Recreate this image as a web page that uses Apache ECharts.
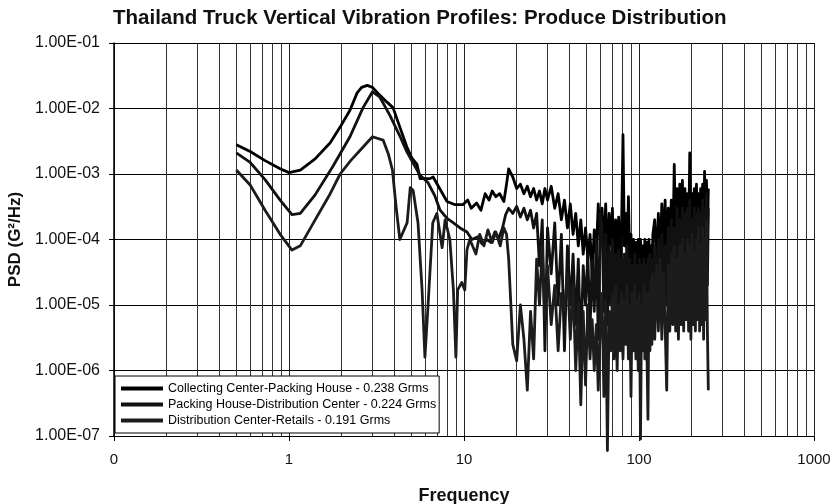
<!DOCTYPE html>
<html>
<head>
<meta charset="utf-8">
<script src="https://cdn.jsdelivr.net/npm/echarts@6/dist/echarts.min.js"></script>
<style>
html,body{margin:0;padding:0;background:#fff;}
#chart{width:837px;height:504px;}
</style>
</head>
<body>
<div id="chart"></div>
<script>
// ---------- data ----------
const seriesNames = [
  'Collecting Center-Packing House - 0.238 Grms',
  'Packing House-Distribution Center - 0.224 Grms',
  'Distribution Center-Retails - 0.191 Grms'
];

// low-frequency parts (Hz, G^2/Hz)
const freqA = [0.5,0.6,0.73,0.89,1.0,1.16,1.41,1.72,1.96,2.23,2.45,2.6,2.8,3.0,3.3,3.63,3.93,4.3,4.71,5.04,5.39,5.61,6.4,6.66,8.0,8.9,9.85,10.5,11.0,11.8,12.5,13.2,13.9,14.5,15.2,16.0,16.9,17.5];
const psdA  = [2.8e-3,2.2e-3,1.6e-3,1.2e-3,1.05e-3,1.15e-3,1.7e-3,3.0e-3,5.2e-3,9.4e-3,0.0173,0.021,0.0225,0.021,0.016,0.0125,0.0103,5.2e-3,2.6e-3,1.75e-3,1.4e-3,8.5e-4,8.5e-4,9e-4,3.8e-4,3.4e-4,3.4e-4,4e-4,3e-4,3.6e-4,2.8e-4,5e-4,4e-4,5.5e-4,4.5e-4,5e-4,3.8e-4,7e-4];

const freqB = [0.5,0.6,0.73,0.89,1.04,1.16,1.41,1.78,2.23,2.65,3.0,3.3,3.76,4.3,4.71,5.1,5.6,6.2,6.8,7.3,8.0,8.7,9.5,10.4,11.1,12.0,12.7,13.5,14.3,15.0,15.8,16.6,17.3];
const psdB  = [2.1e-3,1.5e-3,8.2e-4,4e-4,2.4e-4,2.5e-4,4.8e-4,1.3e-3,3.7e-3,0.0103,0.018,0.015,8e-3,3.8e-3,2.2e-3,1.5e-3,9.6e-4,7.5e-4,4.7e-4,2.8e-4,2.1e-4,1.8e-4,1.5e-4,1.3e-4,1e-4,1.1e-4,8.5e-5,1e-4,9e-5,1.3e-4,1.05e-4,1.5e-4,2.4e-4];

const freqC = [0.5,0.6,0.73,0.89,1.04,1.16,1.44,1.72,1.96,2.25,2.55,3.0,3.45,3.7,3.9,4.1,4.3,4.73,4.93,5.12,5.46,5.76,5.98,6.22,6.63,7.0,7.5,7.8,8.3,8.7,8.99,9.2,9.7,10.1,10.4,10.8,11.7,12.3,13.0,13.7,14.5,15.2,16.1,16.9,17.5];
const psdC  = [1.15e-3,6.8e-4,2.8e-4,1.2e-4,6.9e-5,8e-5,2.2e-4,5e-4,1.0e-3,1.6e-3,2.3e-3,3.7e-3,3.3e-3,2e-3,1.15e-3,3e-4,1e-4,1.8e-4,6.2e-4,5.6e-4,1.8e-4,1.7e-5,1.6e-6,9e-6,1.8e-4,2.5e-4,7.5e-5,2e-4,1e-4,1.7e-5,1.6e-6,1.7e-5,2.2e-5,1.7e-5,7e-5,1e-4,6e-5,1.2e-4,8e-5,1.4e-4,9e-5,1.3e-4,8e-5,1.5e-4,1.2e-4];

// 18–60 Hz noisy band (shared frequencies)
const midFreq = [18,19,20,21,22,23,24,25,26,27,28,29,30,31.5,33,34.5,36,37.5,39,40.5,42,43.5,45,46.5,48,49.5,51,52.5,54,55.5,57,58.5,60];
const midA = [1.2e-3,9e-4,6e-4,7e-4,5e-4,6.5e-4,4.5e-4,6e-4,4e-4,5.5e-4,3.5e-4,6e-4,4e-4,6.5e-4,3e-4,5e-4,2e-4,4e-4,1.5e-4,3.5e-4,1.2e-4,2.5e-4,8e-5,2e-4,6e-5,1.5e-4,5e-5,1.2e-4,3e-5,1.4e-4,6e-5,3.5e-4,1e-4];
const midB = [3e-4,2.5e-4,3.2e-4,2.2e-4,3e-4,2e-4,2.8e-4,1.5e-4,2.5e-4,4e-5,2e-4,2e-6,1.5e-4,3e-5,1.8e-4,1e-5,1.2e-4,2e-6,8e-5,1e-5,6e-5,5e-6,5e-5,2e-6,4e-5,1e-5,6e-5,4e-6,5e-5,8e-6,1e-4,3e-6,2.5e-4];
const midC = [5e-5,2.5e-6,1.4e-6,1e-5,3e-6,5e-7,8e-6,1.5e-6,5e-5,1e-5,8e-5,6e-6,4e-5,5e-6,2e-5,2e-6,1.5e-5,8e-6,3e-5,3e-6,2e-5,1e-6,1e-5,3e-7,8e-6,6e-7,1e-5,1.5e-6,6e-6,1e-6,5e-6,5e-7,4e-6];

// 60–120 Hz noisy band
const hiFreq1 = [61.5,63,64.5,66,67.5,69,70.5,72,73.5,75,76.5,78,79.5,81,82.5,84,85.5,87,88.5,90,91.5,93,94.5,96,97.5,99,100.5,102,103.5,105,106.5,108,109.5,111,112.5,114,115.5,117,118.5,120];
const hi1A = [3e-4,6e-5,3.5e-4,4e-5,2.5e-4,8e-5,3e-4,3e-5,2e-4,6e-5,2.2e-4,3e-5,1.5e-4,4e-3,8e-5,2.5e-4,4e-5,4.5e-4,5e-5,1.2e-4,2e-5,1e-4,3e-5,9e-5,1.5e-5,1e-4,2.5e-5,1e-4,2e-5,8e-5,3e-5,1e-4,1.5e-5,9e-5,3e-5,1e-4,2e-5,8e-5,3e-5,1.2e-4];
const hi1B = [1.5e-4,8e-6,1.2e-4,5e-6,8e-5,1e-5,1e-4,4e-6,6e-5,8e-6,7e-5,3e-6,5e-5,6e-6,6e-5,4e-6,8e-5,3e-6,5e-5,5e-6,4e-5,3e-6,6e-5,6e-6,4e-5,4e-6,5e-5,3e-6,4e-5,7e-6,5e-5,4e-6,4e-5,6e-6,5e-5,5e-6,6e-5,8e-6,5e-5,6e-6];
const hi1C = [1.5e-5,4e-7,1e-5,6e-8,8e-6,2e-6,1.5e-5,1.5e-6,2e-5,1e-6,1e-5,2e-6,1.5e-5,1.5e-6,1.2e-5,2.5e-6,2e-5,1.5e-6,1e-5,4e-7,1.5e-5,2e-6,2e-5,1.5e-6,1.2e-5,1e-6,1.5e-5,9e-8,1e-5,2e-6,2e-5,1.5e-6,1.5e-5,2e-6,1.8e-7,1.5e-5,2e-6,2.5e-5,2.5e-6,3e-5];

// 120–250 Hz noisy band
const hiFreq2 = [123,126,129,132,135,138,141,144,147,150,153,156,159,162,165,168,171,174,177,180,183,186,189,192,195,198,201,204,207,210,213,216,219,222,225,228,231,234,237,240,243,246,249];
const hi2A = [2e-4,4e-5,2.5e-4,5e-5,3.5e-4,6e-5,4e-4,4e-5,3e-4,8e-5,4e-4,6e-5,1.4e-3,1e-4,6e-4,5e-5,7e-4,1e-4,8e-4,6e-5,6e-4,1.2e-4,5e-4,8e-5,2.1e-3,1.5e-4,5e-4,6e-5,6e-4,1e-4,7e-4,5e-5,5e-4,1.2e-4,6e-4,8e-5,7e-4,1e-4,1.1e-3,6e-5,8e-4,1e-4,6e-4];
const hi2B = [8e-5,8e-6,1e-4,1e-5,1.2e-4,7e-6,8e-5,1e-5,1.5e-4,8e-6,2e-4,1.2e-5,1.5e-4,1e-5,3e-4,1.5e-5,2e-4,8e-6,3e-4,1.2e-5,2.5e-4,1e-5,3e-4,1.5e-5,4e-4,1e-5,2e-4,1.2e-5,3e-4,8e-6,2.5e-4,1.5e-5,3e-4,1e-5,2.5e-4,1.2e-5,4e-4,1e-5,3e-4,1.5e-5,5e-4,2e-5,3e-4];
const hi2C = [3e-6,4e-5,4e-6,5e-5,3e-6,3e-5,5e-6,5e-7,4e-5,4e-6,6e-5,5e-6,8e-5,4e-6,5e-5,3e-6,8e-5,5e-6,1e-4,4e-6,6e-5,6e-6,1e-4,4e-6,8e-5,3e-6,1.2e-4,5e-6,6e-5,4e-6,1e-4,6e-6,1.5e-4,4e-6,8e-5,5e-6,1.5e-4,3e-6,1e-4,6e-6,2e-4,4e-6,5e-7];

// axis tick labels (by decade exponent)
const xTickLabels = {'-1':'0','0':'1','1':'10','2':'100','3':'1000'};
const yTickLabels = {'-7':'1.00E-07','-6':'1.00E-06','-5':'1.00E-05','-4':'1.00E-04','-3':'1.00E-03','-2':'1.00E-02','-1':'1.00E-01'};

// ---------- build ----------
function pairs(f, v){ return f.map((x,i)=>[x, v[i]]); }
const dataA = [].concat(pairs(freqA, psdA), pairs(midFreq, midA), pairs(hiFreq1, hi1A), pairs(hiFreq2, hi2A));
const dataB = [].concat(pairs(freqB, psdB), pairs(midFreq, midB), pairs(hiFreq1, hi1B), pairs(hiFreq2, hi2B));
const dataC = [].concat(pairs(freqC, psdC), pairs(midFreq, midC), pairs(hiFreq1, hi1C), pairs(hiFreq2, hi2C));

// minor vertical grid lines at 2..9 x each decade
const minorX = [];
[0.1,1,10,100].forEach(d=>{ for(let k=2;k<=9;k++) minorX.push(+(d*k).toPrecision(3)); });

const FONT = 'Liberation Sans, Arial, Helvetica, sans-serif';
const chart = echarts.init(document.getElementById('chart'), null, {renderer:'canvas'});

function lineSeries(name, data, color, clip){
  return {
    name, type:'line', data, showSymbol:false, symbol:'none',
    lineStyle:{color, width:2.8, join:'round'}, itemStyle:{color},
    animation:false, clip: clip, z:3
  };
}

chart.setOption({
  backgroundColor:'#fff',
  animation:false,
  title:{
    text:'Thailand Truck Vertical Vibration Profiles: Produce Distribution',
    left:108, top:3,
    textStyle:{fontFamily:FONT, fontSize:20.5, fontWeight:'bold', color:'#111'}
  },
  grid:{left:114, right:23, top:43, bottom:68, containLabel:false, outerBoundsMode:'none'},
  legend:{
    data:seriesNames,
    orient:'vertical', left:115, top:376, z:10,
    icon:'rect', itemWidth:42, itemHeight:4, itemGap:3,
    padding:[6,3,6,6],
    borderColor:'#000', borderWidth:1, backgroundColor:'#fff',
    textStyle:{fontFamily:FONT, fontSize:12.5, color:'#000'},
    selectedMode:false
  },
  xAxis:{
    type:'log', logBase:10, min:0.1, max:1000,
    name:'Frequency', nameLocation:'middle', nameGap:51,
    nameTextStyle:{fontFamily:FONT, fontSize:18, fontWeight:'bold', color:'#111'},
    axisLine:{show:true, onZero:false, lineStyle:{color:'#000', width:1.2}},
    axisTick:{show:true, inside:false, length:5, lineStyle:{color:'#000'}},
    axisLabel:{margin:16, fontFamily:FONT, fontSize:15, color:'#111',
      formatter:v=>xTickLabels[String(Math.round(Math.log10(v)))] || ''},
    splitLine:{show:true, lineStyle:{color:'#222', width:1}},
    minorTick:{show:false}, minorSplitLine:{show:false}
  },
  yAxis:{
    type:'log', logBase:10, min:1e-7, max:1e-1,
    name:'PSD (G²/Hz)', nameLocation:'middle', nameGap:88, nameRotate:90,
    nameTextStyle:{fontFamily:FONT, fontSize:17, fontWeight:'bold', color:'#111'},
    axisLine:{show:true, onZero:false, lineStyle:{color:'#000', width:1.5}},
    axisTick:{show:true, inside:false, length:5, lineStyle:{color:'#000'}},
    axisLabel:{margin:14, fontFamily:FONT, fontSize:16, color:'#111',
      formatter:v=>yTickLabels[String(Math.round(Math.log10(v)))] || ''},
    splitLine:{show:true, lineStyle:{color:'#000', width:1.2}}
  },
  series:[
    {
      name:'_grid', type:'line', data:[], silent:true, z:1,
      markLine:{
        silent:true, z:1, symbol:['none','none'], animation:false,
        label:{show:false},
        lineStyle:{color:'#333', width:1, type:'solid'},
        emphasis:{disabled:true},
        data:minorX.map(v=>({xAxis:v}))
      }
    },
    lineSeries(seriesNames[0], dataA, '#000', true),
    lineSeries(seriesNames[1], dataB, '#111', true),
    lineSeries(seriesNames[2], dataC, '#1c1c1c', false)
  ]
});
</script>
</body>
</html>
